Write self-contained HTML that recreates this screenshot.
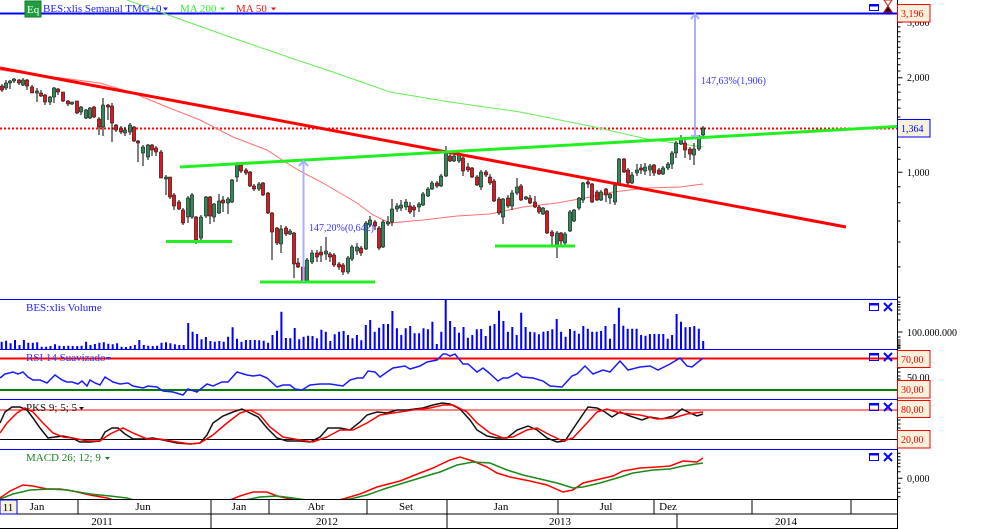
<!DOCTYPE html>
<html><head><meta charset="utf-8"><style>
html,body{margin:0;padding:0;background:#fff;}
svg{display:block;font-family:"Liberation Serif",serif;}
</style></head><body>
<svg width="986" height="529" viewBox="0 0 986 529" xmlns="http://www.w3.org/2000/svg">
<rect x="0" y="0" width="986" height="529" fill="#fff"/>
<defs><clipPath id="macd"><rect x="0" y="450" width="897" height="49"/></clipPath></defs>

<!-- main panel -->
<line x1="0" y1="13.5" x2="897" y2="13.5" stroke="#0000ff" stroke-width="2"/>
<line x1="0" y1="128.5" x2="897" y2="128.5" stroke="#ff0000" stroke-width="2" stroke-dasharray="2 2"/>
<polyline fill="none" stroke="#66ee55" stroke-width="1" points="127,0 163,13 230,37 297,60 330,71 390,92 450,102 520,112 590,126 647,139 703,147"/>
<polyline fill="none" stroke="#ff7070" stroke-width="1" points="0,70 100,83 133,93 167,107 200,120 233,137 267,150 290,165 300,171 323,183 357,203 373,215 390,223 423,220 457,216 490,214 523,207 557,203 590,197 613,192 647,188 680,187 703,184"/>

<!-- candles -->
<path fill="none" stroke="#000" stroke-width="1" d="M2 84V92M6 80V90M10 80V89M14 78V83M19 79V85M23 78V86M27 79V90M32 85V93M37 88V102M41 90V97M45 94V105M50 96V105M54 87V103M58 88V95M63 92V102M68 100V106M72 102V105M77 101V114M81 106V115M86 109V119M90 107V119M94 106V118M99 117V135M103 98V136M108 104V120M112 103V142M116 124V132M121 126V134M125 127V136M130 123V135M134 126V142M138 140V162M143 145V166M148 144V160M152 144V156M156 146V156M161 150V178M166 175V195M170 177V199M174 193V210M179 200V210M183 208V225M188 196V223M192 193V219M196 216V244M201 215V240M206 196V218M210 196V224M214 203V222M219 194V214M223 196V212M228 197V214M232 179V203M237 162V182M241 162V173M246 168V175M250 171V187M254 184V191M259 182V191M263 182V196M268 192V214M272 212V260M277 227V245M281 225V253M286 226V236M290 229V235M294 232V278M298 258V268M303 265V282M307 258V283M312 250V264M317 250V262M321 246V262M326 237V260M330 252V262M334 253V267M339 262V270M343 263V275M348 256V274M352 245V261M357 243V255M361 246V256M366 221V250M370 216V227M375 220V230M379 226V250M383 220V248M388 216V226M392 199V226M397 203V212M401 200V211M406 199V210M410 202V214M414 205V217M419 202V212M423 192V206M428 187V197M432 181V190M437 181V188M441 174V187M446 146V177M450 152V162M454 150V162M459 152V163M463 155V176M468 163V172M472 167V178M477 175V186M481 170V190M486 170V177M490 174V185M494 179V202M499 197V215M503 198V224M508 195V208M512 190V210M517 178V195M521 184V201M526 196V200M530 195V204M535 196V208M539 205V214M543 207V215M547 210V234M552 230V245M557 231V258M561 232V245M565 232V245M570 210V232M574 209V222M579 197V210M583 182V203M588 180V188M592 183V203M597 190V201M601 190V201M606 188V202M610 193V204M615 184V205M619 158V186M624 158V173M628 168V185M632 172V184M637 164V176M641 164V174M645 163V175M650 164V176M654 164V176M659 168V175M663 166V175M668 162V170M672 151V169M676 141V158M681 135V145M685 139V158M690 147V160M694 143V165M699 135V151M703 126V136"/>
<path fill="#2e8b57" stroke="#000" stroke-width="0.6" d="M4.5 83h3v5h-3zM8.5 81h3v2h-3zM12.5 79h3v2h-3zM21.5 80h3v5h-3zM35.5 91h3v2h-3zM48.5 97h3v5h-3zM52.5 88h3v9h-3zM70.5 102h3v2h-3zM79.5 107h3v5h-3zM84.5 110h3v8h-3zM88.5 108h3v10h-3zM101.5 105h3v22h-3zM123.5 130h3v3h-3zM128.5 125h3v7h-3zM141.5 147h3v6h-3zM146.5 145h3v12h-3zM164.5 177h3v2h-3zM186.5 198h3v19h-3zM190.5 195h3v22h-3zM199.5 217h3v21h-3zM204.5 197h3v19h-3zM212.5 204h3v13h-3zM217.5 201h3v12h-3zM226.5 199h3v4h-3zM230.5 180h3v22h-3zM235.5 164h3v13h-3zM257.5 184h3v5h-3zM279.5 229h3v15h-3zM288.5 231h3v3h-3zM305.5 260h3v22h-3zM310.5 253h3v9h-3zM324.5 251h3v3h-3zM346.5 258h3v14h-3zM350.5 247h3v12h-3zM355.5 247h3v4h-3zM364.5 223h3v26h-3zM368.5 220h3v5h-3zM381.5 222h3v25h-3zM386.5 222h3v2h-3zM390.5 209h3v13h-3zM395.5 206h3v3h-3zM399.5 205h3v3h-3zM404.5 202h3v5h-3zM417.5 204h3v3h-3zM421.5 194h3v11h-3zM426.5 189h3v7h-3zM430.5 183h3v6h-3zM439.5 176h3v10h-3zM444.5 152h3v24h-3zM452.5 156h3v5h-3zM457.5 155h3v6h-3zM479.5 172h3v15h-3zM501.5 199h3v18h-3zM510.5 193h3v13h-3zM515.5 187h3v6h-3zM524.5 197h3v2h-3zM541.5 208h3v6h-3zM555.5 233h3v12h-3zM563.5 234h3v9h-3zM568.5 212h3v19h-3zM572.5 210h3v11h-3zM577.5 198h3v10h-3zM581.5 183h3v17h-3zM599.5 192h3v8h-3zM608.5 194h3v4h-3zM613.5 185h3v17h-3zM617.5 159h3v26h-3zM630.5 175h3v8h-3zM635.5 170h3v3h-3zM643.5 167h3v4h-3zM648.5 166h3v4h-3zM661.5 168h3v6h-3zM666.5 164h3v4h-3zM670.5 153h3v11h-3zM674.5 143h3v10h-3zM679.5 138h3v6h-3zM692.5 149h3v6h-3zM697.5 136h3v13h-3zM701.5 128h3v7h-3z"/>
<path fill="#e8121a" stroke="#000" stroke-width="0.6" d="M0.5 86h3v4h-3zM17.5 80h3v3h-3zM25.5 80h3v6h-3zM30.5 87h3v6h-3zM39.5 93h3v3h-3zM43.5 95h3v7h-3zM56.5 89h3v3h-3zM61.5 92h3v9h-3zM66.5 101h3v3h-3zM75.5 101h3v12h-3zM92.5 107h3v10h-3zM97.5 119h3v8h-3zM106.5 105h3v2h-3zM110.5 106h3v17h-3zM114.5 125h3v5h-3zM119.5 128h3v4h-3zM132.5 127h3v14h-3zM136.5 141h3v2h-3zM150.5 145h3v5h-3zM154.5 148h3v4h-3zM159.5 152h3v26h-3zM168.5 177h3v20h-3zM172.5 195h3v11h-3zM177.5 202h3v7h-3zM181.5 210h3v13h-3zM194.5 217h3v23h-3zM208.5 197h3v19h-3zM221.5 200h3v3h-3zM239.5 165h3v6h-3zM244.5 170h3v3h-3zM248.5 172h3v14h-3zM252.5 186h3v3h-3zM261.5 183h3v12h-3zM266.5 193h3v20h-3zM270.5 213h3v19h-3zM275.5 228h3v15h-3zM284.5 228h3v6h-3zM292.5 233h3v31h-3zM296.5 263h3v4h-3zM301.5 267h3v15h-3zM315.5 253h3v4h-3zM319.5 252h3v3h-3zM328.5 254h3v3h-3zM332.5 255h3v10h-3zM337.5 264h3v3h-3zM341.5 265h3v7h-3zM359.5 248h3v5h-3zM373.5 222h3v4h-3zM377.5 228h3v20h-3zM408.5 206h3v6h-3zM412.5 207h3v3h-3zM435.5 183h3v3h-3zM448.5 156h3v5h-3zM461.5 158h3v13h-3zM466.5 167h3v3h-3zM470.5 168h3v9h-3zM475.5 177h3v8h-3zM484.5 172h3v3h-3zM488.5 177h3v6h-3zM492.5 181h3v20h-3zM497.5 199h3v14h-3zM506.5 198h3v8h-3zM519.5 186h3v14h-3zM528.5 198h3v5h-3zM533.5 202h3v5h-3zM537.5 207h3v5h-3zM545.5 211h3v22h-3zM550.5 232h3v4h-3zM559.5 233h3v8h-3zM586.5 182h3v2h-3zM590.5 184h3v18h-3zM595.5 192h3v8h-3zM604.5 189h3v6h-3zM622.5 159h3v13h-3zM626.5 170h3v13h-3zM639.5 168h3v2h-3zM652.5 165h3v8h-3zM657.5 170h3v4h-3zM683.5 143h3v7h-3zM688.5 149h3v5h-3z"/>

<!-- trend lines -->
<line x1="0" y1="68" x2="846" y2="227" stroke="#ff0000" stroke-width="3"/>
<line x1="180" y1="167" x2="897" y2="126.5" stroke="#22ee22" stroke-width="3"/>
<line x1="166" y1="241.5" x2="232" y2="241.5" stroke="#22ee22" stroke-width="3"/>
<line x1="260" y1="282" x2="375" y2="282" stroke="#22ee22" stroke-width="3"/>
<line x1="495" y1="246" x2="575" y2="246" stroke="#22ee22" stroke-width="3"/>

<!-- measurement arrows -->
<g stroke="#a8b0ff" stroke-width="2" fill="none">
<line x1="303.5" y1="282" x2="303.5" y2="161"/>
<polyline points="299,166 303.5,161 308,166"/>
<line x1="695" y1="136" x2="695" y2="14"/>
<polyline points="691,19 695,14 699,19"/>
<line x1="691" y1="136" x2="699" y2="136"/>
</g>
<text x="309" y="231" font-size="10" fill="#3838ff">147,20%(0,642)</text>
<text x="701" y="84" font-size="10" fill="#3838ff">147,63%(1,906)</text>

<!-- header -->
<rect x="25" y="1" width="16" height="16" fill="#1f9e40" stroke="#127a2c" stroke-width="1"/>
<text x="27" y="13" font-size="11" fill="#fff">Eq</text>
<text x="43" y="12" font-size="11" fill="#2020ff">BES:xlis Semanal TMG+0</text>
<polygon points="163,7.5 168,7.5 165.5,10.5" fill="#2020ff"/>
<text x="180" y="12" font-size="11" fill="#33ee33">MA 200</text>
<polygon points="220,7.5 225,7.5 222.5,10.5" fill="#33ee33"/>
<text x="236" y="12" font-size="11" fill="#ee1111">MA 50</text>
<polygon points="271,7.5 276,7.5 273.5,10.5" fill="#ee1111"/>

<!-- main icons -->
<rect x="869.5" y="4.5" width="9" height="6" fill="none" stroke="#0000ff" stroke-width="1"/>
<line x1="869.5" y1="5.5" x2="878.5" y2="5.5" stroke="#0000ff" stroke-width="2"/>
<polygon points="884,0 892,0 888,6" fill="#fff" stroke="#d01010" stroke-width="1"/>
<polygon points="888,6 884,12 892,12" fill="#111" stroke="#d01010" stroke-width="1"/>

<!-- right axis -->
<line x1="897.5" y1="0" x2="897.5" y2="529" stroke="#000" stroke-width="1"/>
<path stroke="#000" stroke-width="1" fill="none" d="M897.5 17.9h3M897.5 22.3h5M897.5 26.9h3M897.5 31.7h3M897.5 36.7h3M897.5 41.8h3M897.5 47.2h3M897.5 52.8h3M897.5 58.6h3M897.5 64.7h3M897.5 71h3M897.5 77.7h5M897.5 84.7h3M897.5 92.1h3M897.5 99.9h3M897.5 108.1h3M897.5 117h3M897.5 126.4h3M897.5 136.5h3M897.5 147.4h3M897.5 159.3h3M897.5 172.3h5M897.5 186.7h3M897.5 202.8h3M897.5 221h3M897.5 242h3M897.5 266.9h3M897.5 297.3h3"/>
<text x="907" y="26" font-size="10" fill="#000">3,000</text>
<text x="907" y="81" font-size="10" fill="#000">2,000</text>
<text x="907" y="176" font-size="10" fill="#000">1,000</text>
<rect x="897.5" y="4.5" width="32.5" height="17.5" fill="#f5f2dc" stroke="#ff0000" stroke-width="1"/>
<text x="901" y="17" font-size="10" fill="#ff0000">3,196</text>
<rect x="897.5" y="119.5" width="32.5" height="17.5" fill="#f5f2dc" stroke="#0000ff" stroke-width="1"/>
<text x="901" y="132" font-size="10" fill="#0000ff">1,364</text>

<!-- panel borders -->
<g stroke="#0000ff" stroke-width="1">
<line x1="0" y1="299.5" x2="897" y2="299.5"/>
<line x1="0" y1="349.5" x2="897" y2="349.5"/>
<line x1="0" y1="399.5" x2="897" y2="399.5"/>
<line x1="0" y1="449.5" x2="897" y2="449.5"/>
</g>

<!-- volume -->
<path fill="none" stroke="#0000ff" stroke-width="2" d="M1.7 349V341.7M6.1 349V340.7M10.6 349V343.3M15 349V340M19.5 349V345M23.9 349V340M28.3 349V342.7M32.8 349V342.7M37.2 349V342.3M41.7 349V346.7M46.1 349V346.7M50.5 349V346M55 349V344.3M59.4 349V345.7M63.9 349V346M68.3 349V345.7M72.7 349V346M77.2 349V346M81.6 349V345.7M86.1 349V341.7M90.5 349V345M94.9 349V344M99.4 349V342.7M103.8 349V342.3M108.3 349V343.7M112.7 349V344.3M117.1 349V343.3M121.6 349V346.7M126 349V347M130.5 349V346M134.9 349V345M139.3 349V340M143.8 349V345M148.2 349V345.7M152.7 349V346M157.1 349V345.7M161.5 349V342.7M166 349V342.3M170.4 349V343.3M174.9 349V344.3M179.3 349V345M183.7 349V345M188.2 349V323M192.6 349V331.7M197.1 349V334M201.5 349V339.3M205.9 349V337M210.4 349V341M214.8 349V341.7M219.3 349V341M223.7 349V341.7M228.1 349V336.7M232.6 349V327.3M237 349V338.7M241.5 349V341.7M245.9 349V340M250.3 349V340M254.8 349V340M259.2 349V340.3M263.7 349V340.7M268.1 349V342.7M272.5 349V335M277 349V330.7M281.4 349V311.7M285.9 349V338M290.3 349V338.3M294.7 349V328M299.2 349V339.3M303.6 349V336.7M308.1 349V335.7M312.5 349V336M316.9 349V338.3M321.4 349V329.7M325.8 349V331.7M330.3 349V341M334.7 349V334.3M339.1 349V331.7M343.6 349V331M348 349V335M352.5 349V338.3M356.9 349V335M361.3 349V340.3M365.8 349V325M370.2 349V320M374.7 349V331.7M379.1 349V327.7M383.5 349V324M388 349V324M392.4 349V311M396.9 349V328.3M401.3 349V335M405.7 349V328.3M410.2 349V326M414.6 349V333.3M419.1 349V333.3M423.5 349V328.3M427.9 349V329.3M432.4 349V321.7M436.8 349V344M441.3 349V331.7M445.7 349V299.7M450.1 349V321M454.6 349V327M459 349V332.7M463.5 349V327M467.9 349V337.7M472.3 349V335M476.8 349V329.3M481.2 349V329M485.7 349V336M490.1 349V325.7M494.5 349V324M499 349V310.7M503.4 349V321M507.9 349V331.7M512.3 349V327M516.7 349V335M521.2 349V312.7M525.6 349V327M530.1 349V331.7M534.5 349V332.3M538.9 349V334.3M543.4 349V331.7M547.8 349V331M552.3 349V329.3M556.7 349V319M561.1 349V331.7M565.6 349V336.7M570 349V329M574.5 349V330.7M578.9 349V333.7M583.3 349V326M587.8 349V328.7M592.2 349V331.7M596.7 349V331.7M601.1 349V331M605.5 349V326M610 349V338.7M614.4 349V324M618.9 349V307.7M623.3 349V325.7M627.7 349V328.7M632.2 349V328.7M636.6 349V328.7M641.1 349V335M645.5 349V335.7M649.9 349V334M654.4 349V334M658.8 349V334M663.3 349V334M667.7 349V338.7M672.1 349V335M676.6 349V314M681 349V321.7M685.5 349V327.3M689.9 349V327M694.3 349V326M698.8 349V328.7M703.2 349V341"/>
<text x="26" y="311" font-size="11" fill="#2020ff">BES:xlis Volume</text>
<text x="907" y="336" font-size="10" fill="#000">100.000.000</text>
<path stroke="#000" stroke-width="1" fill="none" d="M897.5 302h3M897.5 304.5h3M897.5 307h3M897.5 310h3M897.5 314h3M897.5 320h3M897.5 332h5M897.5 337h3M897.5 340h3M897.5 342h3M897.5 344h3M897.5 345.5h3M897.5 347h3M897.5 348.3h3"/>

<!-- RSI -->
<line x1="0" y1="358.5" x2="897" y2="358.5" stroke="#ff0000" stroke-width="2"/>
<line x1="0" y1="390" x2="897" y2="390" stroke="#008000" stroke-width="2"/>
<text x="26" y="361" font-size="11" fill="#3030ff">RSI 14 Suavizado</text>
<polygon points="106,357 111,357 108.5,360" fill="#3030ff"/>
<polyline fill="none" stroke="#1a1aff" stroke-width="1.5" points="0,378 5,374 13,372 18,374 23,372 28,377 33,380 40,380 47,383 55,375 62,380 67,382 72,382 78,384 82,381 87,386 90,380 95,383 100,385 105,377 113,382 120,384 128,383 133,386 143,388 148,386 157,387 163,391 173,392 183,395 188,389 197,392 202,388 207,384 213,386 222,382 228,382 237,372 247,375 253,376 260,375 267,378 277,387 283,385 290,385 295,389 302,390 310,385 320,384 330,384 343,386 350,380 357,378 363,378 368,371 375,372 380,377 387,372 393,368 405,366 410,369 420,366 427,362 437,360 443,354 446,354 450,356 455,354 463,364 468,364 477,372 483,368 488,372 498,381 503,378 508,378 517,373 522,377 533,378 543,381 550,386 562,387 572,376 577,374 585,366 593,374 603,370 610,372 620,361 628,370 640,367 650,366 658,370 670,364 680,358 687,366 692,367 703,358"/>
<path stroke="#000" stroke-width="1" fill="none" d="M897.5 368h3M897.5 372h3M897.5 376h3M897.5 379h3"/>
<text x="907" y="381" font-size="10" fill="#000">50,00</text>
<rect x="897.5" y="350.5" width="32.5" height="17" fill="#f5f2dc" stroke="#ff0000" stroke-width="1"/>
<text x="901" y="363" font-size="10" fill="#ff0000">70,00</text>
<rect x="897.5" y="380.5" width="32.5" height="17.5" fill="#f5f2dc" stroke="#ff0000" stroke-width="1"/>
<text x="901" y="393" font-size="10" fill="#ff0000">30,00</text>

<!-- Stochastic -->
<line x1="0" y1="410" x2="897" y2="410" stroke="#ff0000" stroke-width="1"/>
<line x1="0" y1="439.5" x2="897" y2="439.5" stroke="#000" stroke-width="1"/>
<polyline fill="none" stroke="#111" stroke-width="1.5" points="0,423 5,412 12,407 20,407 27,410 33,418 40,428 48,438 55,437 63,436 72,438 80,442 90,442 100,441 105,432 112,428 118,428 125,434 133,439 143,439 153,438 163,440 177,443 190,444 200,443 207,435 213,423 223,416 233,412 242,409 248,412 258,417 267,428 277,438 287,441 300,441 310,442 320,437 328,428 340,428 350,430 360,422 367,415 377,412 387,413 397,410 407,410 423,408 433,405 442,403 450,404 460,409 470,420 477,430 487,436 497,438 507,438 517,430 528,426 537,430 547,438 557,442 565,441 577,423 588,407 597,408 605,412 612,417 620,412 630,416 642,420 650,417 662,419 673,416 682,409 690,413 697,416 703,414"/>
<polyline fill="none" stroke="#ff0000" stroke-width="1.5" points="0,433 7,423 17,413 25,408 33,412 43,423 53,433 63,437 73,438 87,441 100,441 110,434 123,428 133,433 147,439 160,439 177,442 190,444 200,443 213,435 227,423 240,413 250,410 260,415 270,427 283,437 300,440 313,442 327,437 340,430 353,430 367,423 380,415 393,413 413,410 430,408 443,405 453,405 467,412 477,423 490,433 503,438 513,437 527,430 537,428 550,435 563,441 573,438 587,423 597,412 607,409 620,413 640,415 657,419 673,418 687,414 703,412"/>
<text x="26" y="411" font-size="11" fill="#111">PKS 9; 5; 5</text>
<polygon points="79,407 84,407 81.5,410" fill="#111"/>
<path stroke="#000" stroke-width="1" fill="none" d="M897.5 420h3M897.5 424h3M897.5 428h3"/>
<rect x="897.5" y="400.5" width="32.5" height="17" fill="#f5f2dc" stroke="#ff0000" stroke-width="1"/>
<text x="901" y="413" font-size="10" fill="#ff0000">80,00</text>
<rect x="897.5" y="430.5" width="32.5" height="17.5" fill="#f5f2dc" stroke="#ff0000" stroke-width="1"/>
<text x="901" y="443" font-size="10" fill="#ff0000">20,00</text>

<!-- MACD -->
<g clip-path="url(#macd)">
<polyline fill="none" stroke="#ff0000" stroke-width="1.5" points="0,498 10,491 23,485 33,486 47,489 60,489 73,491 90,495 107,498 120,502 150,510 200,508 230,500 240,496 253,492 267,492 277,496 290,499 310,503 330,502 343,499 360,494 377,487 400,481 420,473 433,468 450,460 460,457 473,461 487,467 497,473 510,477 530,481 547,485 563,492 573,490 583,483 600,479 613,476 623,471 640,468 657,467 670,466 683,461 697,462 703,458"/>
<polyline fill="none" stroke="#1a8a1a" stroke-width="1.5" points="0,499 13,494 30,490 50,489 67,490 90,494 110,496 127,498 140,502 180,510 230,503 260,497 277,496 293,498 320,502 350,499 367,495 387,488 410,481 433,474 440,472 457,465 473,462 490,463 507,470 523,475 540,479 557,483 573,488 583,487 600,483 617,478 633,473 653,470 670,469 683,466 703,463"/>
</g>
<text x="26" y="461" font-size="11" fill="#208020">MACD 26; 12; 9</text>
<polygon points="105,457 110,457 107.5,460" fill="#208020"/>
<path stroke="#000" stroke-width="1" fill="none" d="M897.5 453.3h3M897.5 456.7h3M897.5 460h3M897.5 463.3h3M897.5 466.7h3M897.5 471.7h3M897.5 478.3h5M897.5 483.3h3M897.5 488.3h3M897.5 492.3h3M897.5 496.7h3"/>
<text x="907" y="482" font-size="10" fill="#000">0,000</text>

<!-- panel icons -->
<g stroke="#0000ff" fill="none">
<rect x="869.5" y="303.5" width="9" height="7" stroke-width="1"/><line x1="869.5" y1="304.5" x2="878.5" y2="304.5" stroke-width="2"/>
<path d="M884 303l8 8M892 303l-8 8" stroke-width="2"/>
<rect x="869.5" y="353.5" width="9" height="7" stroke-width="1"/><line x1="869.5" y1="354.5" x2="878.5" y2="354.5" stroke-width="2"/>
<path d="M884 353l8 8M892 353l-8 8" stroke-width="2"/>
<rect x="869.5" y="403.5" width="9" height="7" stroke-width="1"/><line x1="869.5" y1="404.5" x2="878.5" y2="404.5" stroke-width="2"/>
<path d="M884 403l8 8M892 403l-8 8" stroke-width="2"/>
<rect x="869.5" y="453.5" width="9" height="7" stroke-width="1"/><line x1="869.5" y1="454.5" x2="878.5" y2="454.5" stroke-width="2"/>
<path d="M884 453l8 8M892 453l-8 8" stroke-width="2"/>
</g>

<!-- time axis -->
<g stroke="#000" stroke-width="1">
<line x1="0" y1="499.5" x2="897" y2="499.5"/>
<line x1="0" y1="514" x2="897" y2="514"/>
<line x1="0" y1="528.5" x2="897" y2="528.5"/>
<path d="M78 500V514M211 500V514M269 500V514M367 500V514M447 500V514M558 500V514M654 500V514M752 500V514M851 500V514M211 514V529M447 514V529M677 514V529"/>
</g>
<rect x="0" y="500" width="17" height="14" fill="#f5f2dc" stroke="#0000ff" stroke-width="1"/>
<g font-size="11" fill="#000" text-anchor="middle">
<text x="8" y="511">11</text>
<text x="37" y="510">Jan</text>
<text x="143" y="510">Jun</text>
<text x="239" y="510">Jan</text>
<text x="316" y="510">Abr</text>
<text x="406" y="510">Set</text>
<text x="501" y="510">Jan</text>
<text x="606" y="510">Jul</text>
<text x="668" y="510">Dez</text>
<text x="102" y="525">2011</text>
<text x="327" y="525">2012</text>
<text x="560" y="525">2013</text>
<text x="786" y="525">2014</text>
</g>
</svg>
</body></html>
